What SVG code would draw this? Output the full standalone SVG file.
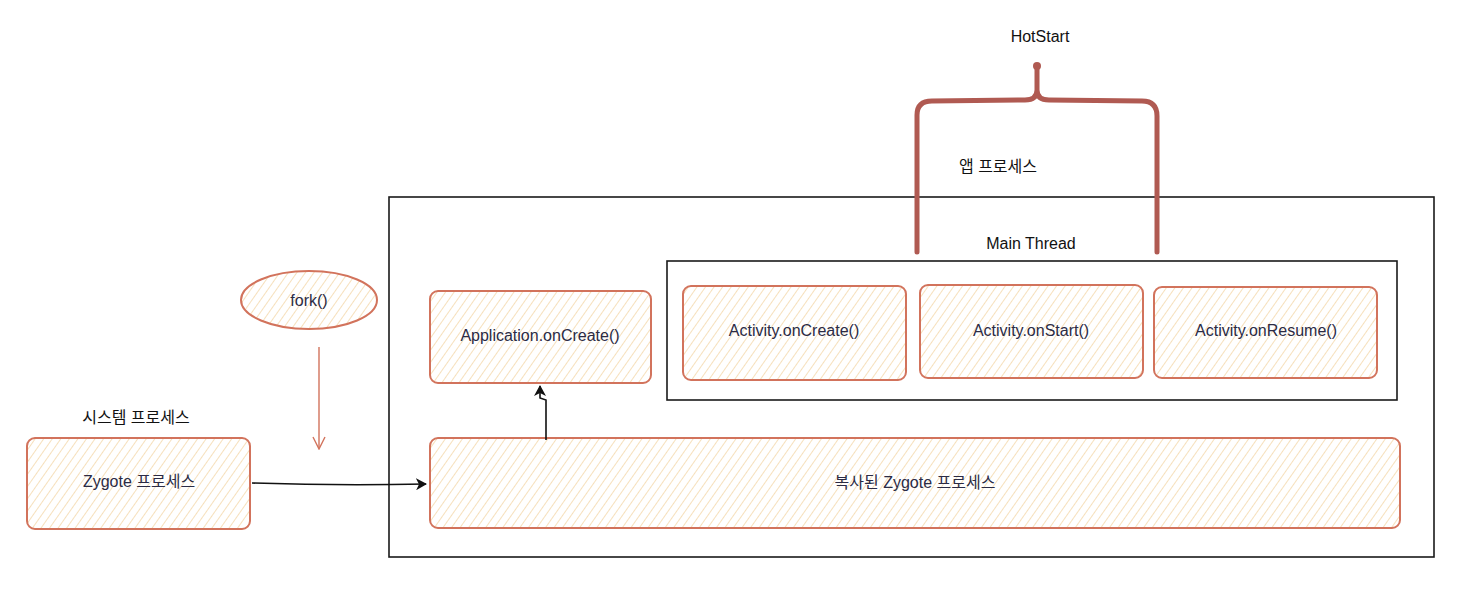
<svg xmlns="http://www.w3.org/2000/svg" width="1458" height="590" viewBox="0 0 1458 590">
<style>
.box{fill:url(#hatch);stroke:#d2735c;stroke-width:2}
.frame{fill:none;stroke:#1a1a1a;stroke-width:1.6}
.lbl{font-family:"Liberation Sans","Noto Sans CJK KR",sans-serif;font-size:16px;fill:#2b2b45;text-anchor:middle}
.hdr{font-family:"Liberation Sans","Noto Sans CJK KR",sans-serif;font-size:16px;fill:#111;text-anchor:middle}
.conn{fill:none;stroke:#111;stroke-width:1.6}
</style>
<defs>
<pattern id="hatch" width="7" height="7" patternUnits="userSpaceOnUse" patternTransform="rotate(35)">
<rect width="7" height="7" fill="#ffffff"/>
<line x1="0" y1="0" x2="0" y2="7" stroke="#f0cc8f" stroke-width="1.2"/>
</pattern>
<marker id="arr" markerWidth="12" markerHeight="12" refX="10" refY="6" orient="auto" markerUnits="userSpaceOnUse">
<path d="M0,0 L11,6 L0,12 L3,6 Z" fill="#111"/>
</marker>
<marker id="open" markerWidth="14" markerHeight="14" refX="7" refY="12" orient="0" markerUnits="userSpaceOnUse">
<path d="M1,1 L7,13 L13,1" fill="none" stroke="#d2735c" stroke-width="1.4"/>
</marker>
</defs>

<g id="app-process">
<rect class="frame" x="389" y="197" width="1045" height="360"/>
<text class="hdr" x="998" y="172">앱 프로세스</text>
</g>

<g id="main-thread">
<rect class="frame" x="667" y="261" width="730" height="139"/>
<text class="hdr" x="1031" y="249">Main Thread</text>
</g>

<g id="hotstart">
<path d="M917,252 L917,115 Q917,101 932,101 L1025,100 Q1037,100 1037,90 L1037,68 M1037,90 Q1037,100 1049,100 L1142,101 Q1157,101 1157,116 L1157,252" fill="none" stroke="#b05a52" stroke-width="5" stroke-linecap="round"/>
<circle cx="1037" cy="66" r="4" fill="#b05a52"/>
<text class="hdr" x="1040" y="42">HotStart</text>
</g>

<g id="application-oncreate">
<rect class="box" x="430" y="291" width="221" height="92" rx="8"/>
<text class="lbl" x="540" y="341">Application.onCreate()</text>
</g>

<g id="activity-oncreate">
<rect class="box" x="683" y="286" width="223" height="94" rx="8"/>
<text class="lbl" x="794" y="336">Activity.onCreate()</text>
</g>

<g id="activity-onstart">
<rect class="box" x="920" y="285" width="223" height="93" rx="8"/>
<text class="lbl" x="1031" y="336">Activity.onStart()</text>
</g>

<g id="activity-onresume">
<rect class="box" x="1154" y="287" width="223" height="91" rx="8"/>
<text class="lbl" x="1266" y="336">Activity.onResume()</text>
</g>

<g id="copied-zygote">
<rect class="box" x="430" y="438" width="970" height="90" rx="8"/>
<text class="lbl" x="915" y="488">복사된 Zygote 프로세스</text>
</g>

<g id="system-process">
<text class="hdr" x="136" y="423">시스템 프로세스</text>
</g>

<g id="zygote">
<rect class="box" x="27" y="438" width="223" height="91" rx="8"/>
<text class="lbl" x="139" y="487">Zygote 프로세스</text>
</g>

<g id="fork">
<ellipse class="box" cx="309" cy="300" rx="68" ry="29"/>
<text class="lbl" x="309" y="306">fork()</text>
</g>

<g id="connectors">
<path class="conn" d="M252,483 Q340,486 426,484" marker-end="url(#arr)"/>
<path class="conn" d="M546,440 L546,400 L540,398 L540,386" marker-end="url(#arr)"/>
<line x1="319" y1="347" x2="319" y2="448" stroke="#d2735c" stroke-width="1.4" marker-end="url(#open)"/>
</g>
</svg>
